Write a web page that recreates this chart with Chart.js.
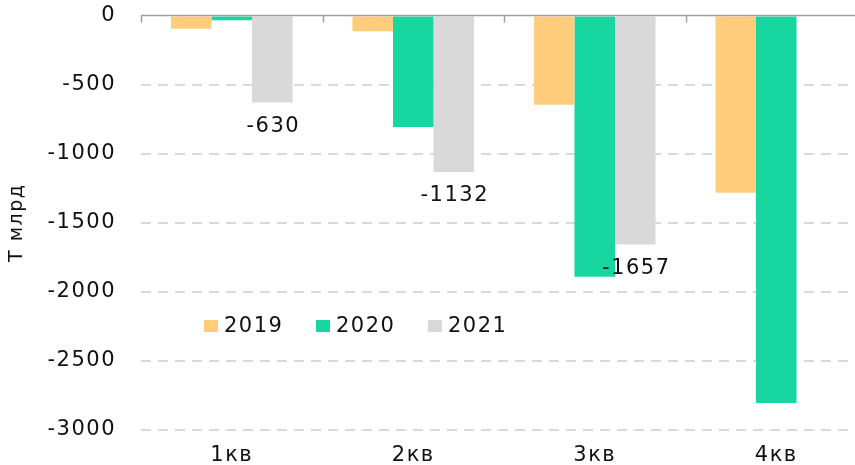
<!DOCTYPE html>
<html>
<head>
<meta charset="utf-8">
<script src="https://cdn.jsdelivr.net/npm/chart.js@4"></script>
<style>
  html, body { margin: 0; padding: 0; overflow: hidden; background: #fff; }
  #wrap { width: 870px; height: 465px; }
</style>
</head>
<body>
<div id="wrap"><canvas id="myChart" width="870" height="465"></canvas></div>
<script>
const quarters = ['1кв', '2кв', '3кв', '4кв'];
const years = ['2019', '2020', '2021'];
const values2019 = [-95, -114, -645, -1283];
const values2020 = [-34, -807, -1891, -2804];
const values2021 = [-630, -1132, -1657, null];
const yTicks = [0, -500, -1000, -1500, -2000, -2500, -3000];
const colors = ['#FDCD7C', '#17D69F', '#D9D9D9'];

const font = 'DejaVu Sans';
const spacing = '1.5px';
const fontSize = 21;
Chart.defaults.font.family = font;
Chart.defaults.color = '#111';

// wide lettering like the original
const wideText = {
  id: 'wideText',
  beforeLayout(chart) { chart.ctx.letterSpacing = spacing; },
  beforeDraw(chart) { chart.ctx.letterSpacing = spacing; }
};

// zero line with tick marks between quarters
const zeroAxis = {
  id: 'zeroAxis',
  afterDatasetsDraw(chart) {
    const { ctx, chartArea, scales } = chart;
    const y0 = scales.y.getPixelForValue(0);
    const step = scales.x.getPixelForValue(1) - scales.x.getPixelForValue(0);
    ctx.save();
    ctx.strokeStyle = '#a0a0a0';
    ctx.lineWidth = 1.5;
    ctx.beginPath();
    ctx.moveTo(chartArea.left, y0);
    ctx.lineTo(chartArea.right, y0);
    for (let i = 0; i < quarters.length; i++) {
      const x = Math.round(chartArea.left + i * step) + 0.5;
      ctx.moveTo(x, y0);
      ctx.lineTo(x, y0 + 7);
    }
    ctx.stroke();
    ctx.restore();
  }
};

// value labels under the 2021 bars
const labels2021 = {
  id: 'labels2021',
  afterDatasetsDraw(chart) {
    const { ctx } = chart;
    const meta = chart.getDatasetMeta(2);
    ctx.save();
    ctx.font = fontSize + 'px "' + font + '"';
    ctx.fillStyle = '#111';
    ctx.textAlign = 'center';
    ctx.textBaseline = 'middle';
    meta.data.forEach((bar, i) => {
      const v = values2021[i];
      if (v == null) return;
      ctx.fillText(String(v), bar.x + 1, bar.y + 24);
    });
    ctx.restore();
  }
};

// legend drawn inside the plot
const innerLegend = {
  id: 'innerLegend',
  afterDraw(chart) {
    const { ctx } = chart;
    const starts = [204, 316, 428];
    const cy = 326;
    ctx.save();
    ctx.font = fontSize + 'px "' + font + '"';
    ctx.textBaseline = 'middle';
    ctx.textAlign = 'left';
    years.forEach((y, i) => {
      ctx.fillStyle = colors[i];
      ctx.fillRect(starts[i], cy - 6, 14, 12);
      ctx.fillStyle = '#111';
      ctx.fillText(y, starts[i] + 20, cy + 1);
    });
    ctx.restore();
  }
};

const data = {
  labels: quarters,
  datasets: years.map((y, i) => ({
    label: y,
    data: [values2019, values2020, values2021][i],
    backgroundColor: colors[i],
    borderWidth: 0
  }))
};

const config = {
  type: 'bar',
  data: data,
  options: {
    responsive: false,
    animation: false,
    layout: { padding: { top: 0, left: 6, right: 3, bottom: 0 } },
    datasets: { bar: { barPercentage: 1, categoryPercentage: 0.67 } },
    plugins: {
      legend: { display: false },
      tooltip: { enabled: false }
    },
    scales: {
      x: {
        grid: { display: false, drawTicks: false },
        border: { display: false },
        ticks: { font: { size: fontSize }, color: '#111', padding: 13 },
        afterFit(scale) { scale.height = 35; }
      },
      y: {
        min: -3000,
        max: 0,
        afterBuildTicks(scale) { scale.ticks = yTicks.map(v => ({ value: v })); },
        grid: {
          drawTicks: true,
          tickLength: 22,
          tickColor: 'rgba(0,0,0,0)',
          lineWidth: 2,
          color: ctx => ctx.tick && ctx.tick.value === 0 ? 'rgba(0,0,0,0)' : '#d9d9d9'
        },
        border: { display: false, dash: [10, 7] },
        ticks: {
          font: { size: fontSize },
          color: '#111',
          padding: 3,
          callback: v => String(v)
        },
        title: {
          display: true,
          text: 'Т млрд',
          font: { size: 19 },
          color: '#111',
          padding: { top: 0, bottom: 0 }
        },
        afterFit(scale) { scale.width = 135; }
      }
    }
  },
  plugins: [wideText, zeroAxis, labels2021, innerLegend]
};

const myChart = new Chart(document.getElementById('myChart'), config);
</script>
</body>
</html>
